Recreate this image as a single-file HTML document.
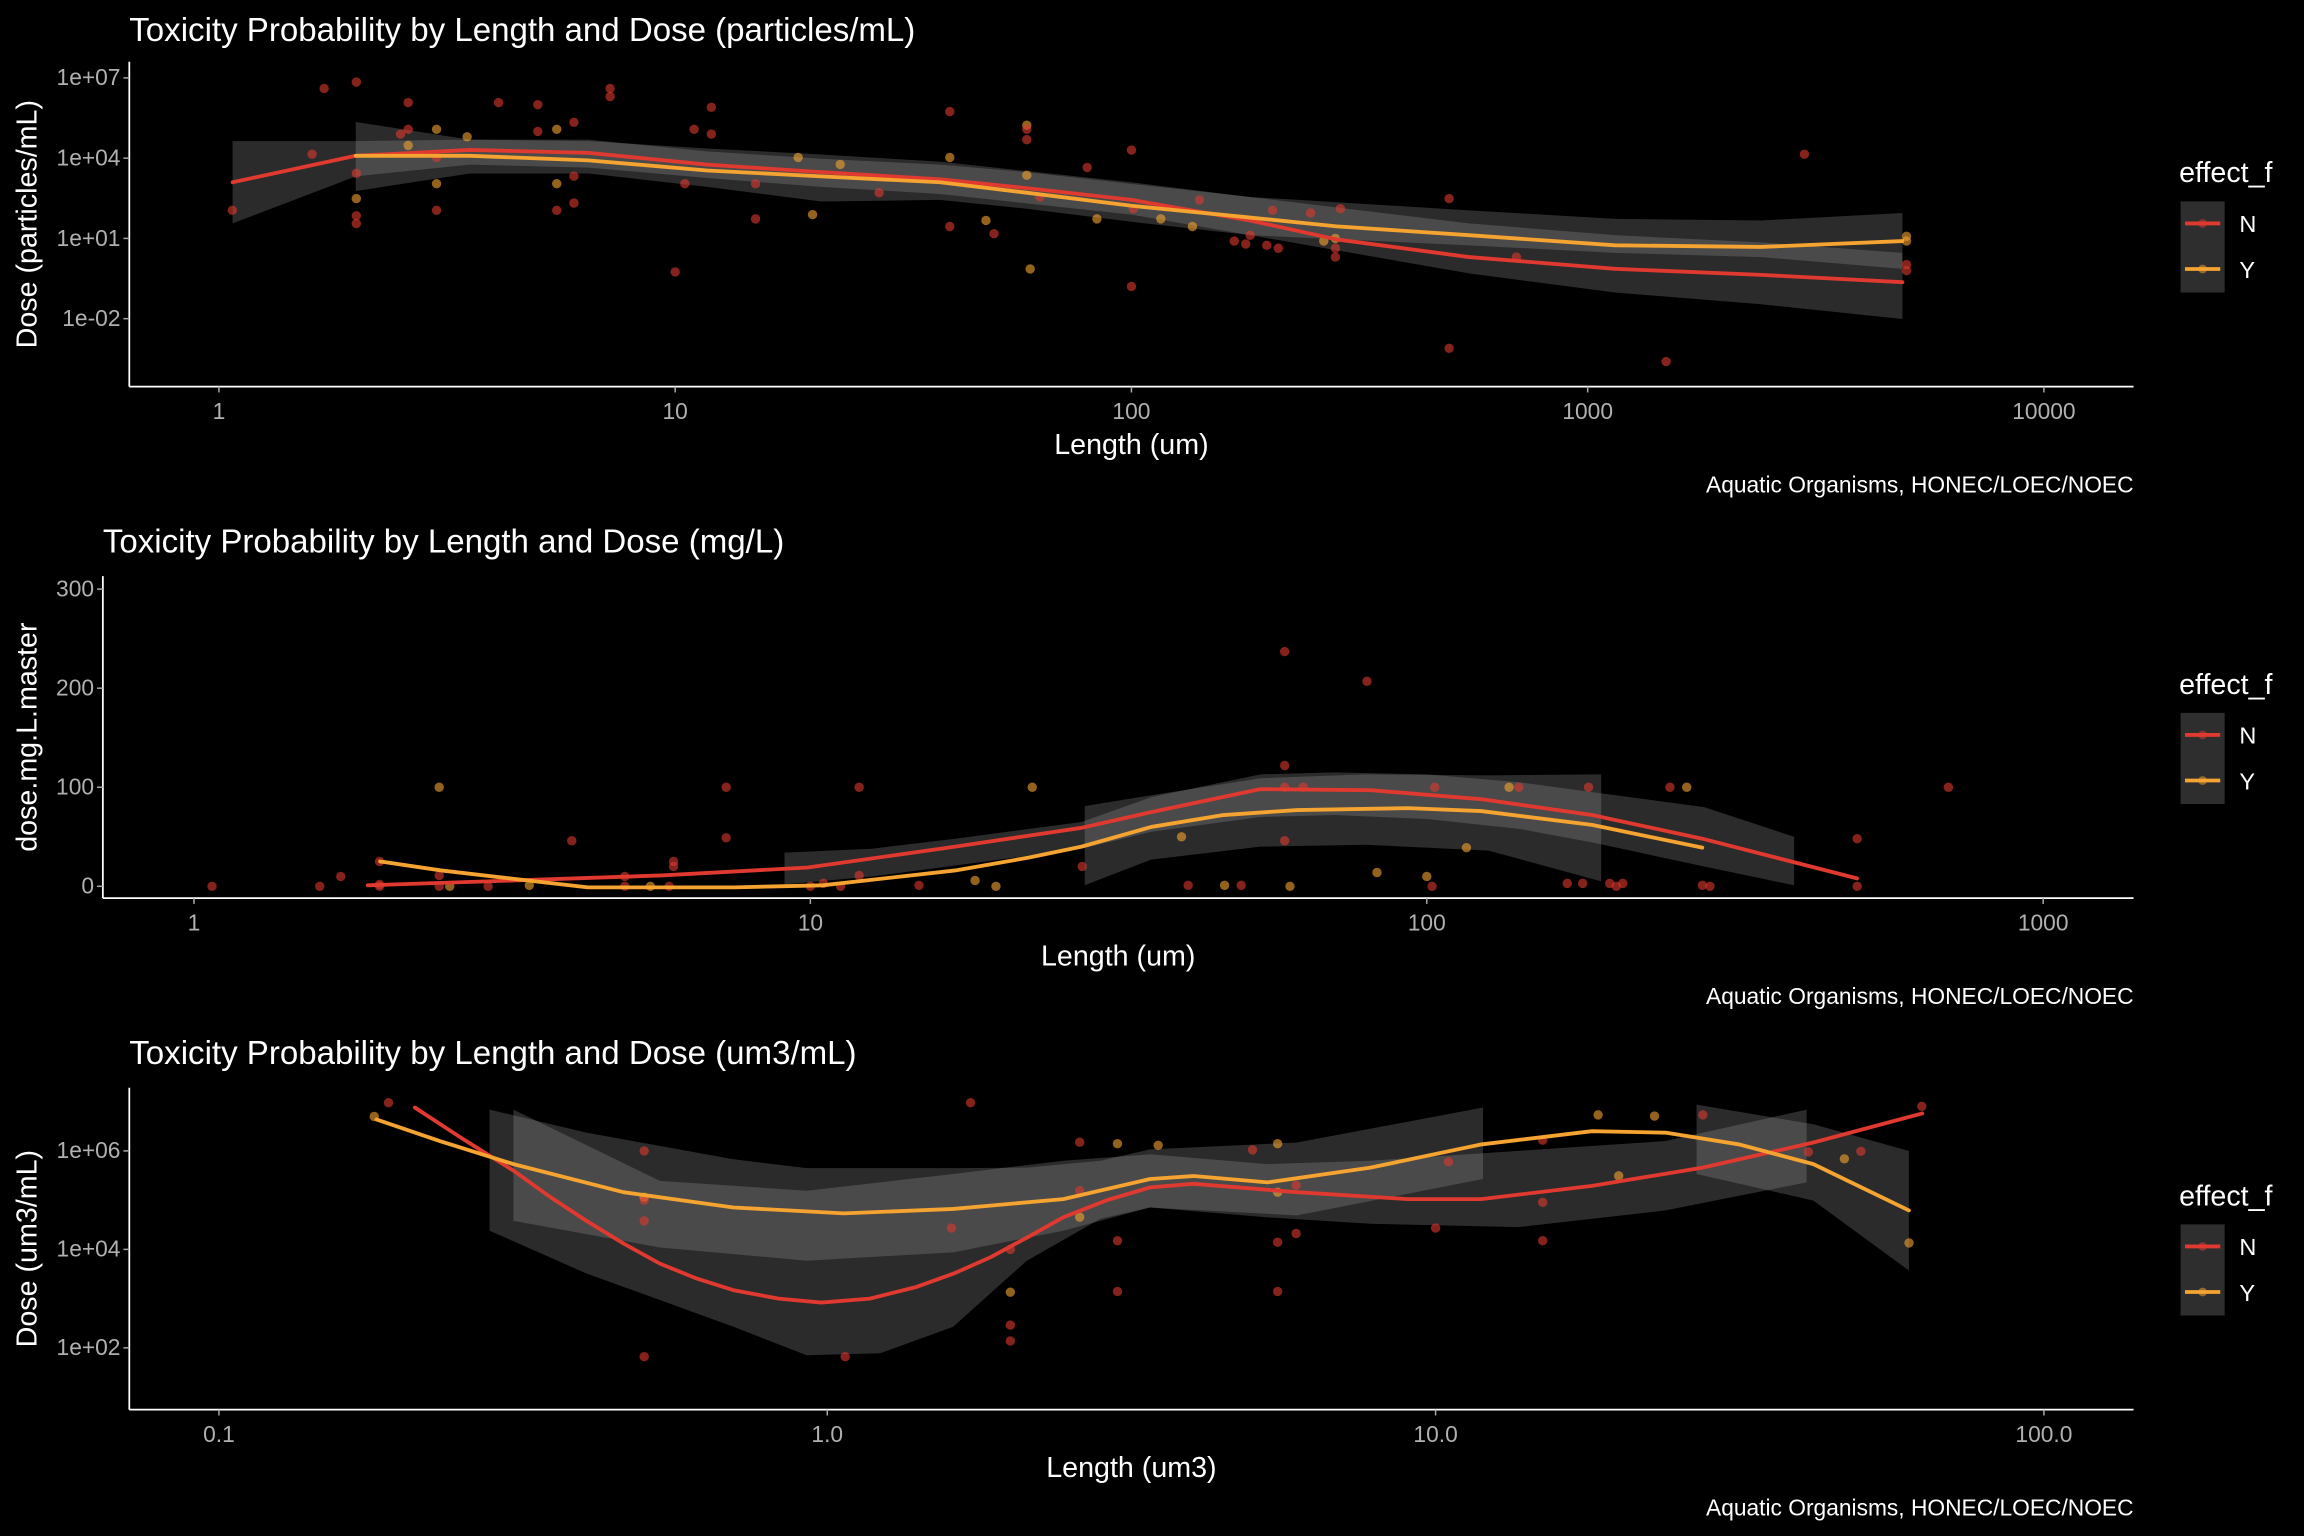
<!DOCTYPE html>
<html><head><meta charset="utf-8"><style>
html,body{margin:0;padding:0;background:#000;}
svg{display:block;}
text{font-family:"Liberation Sans",sans-serif;}
</style></head><body>
<svg id="chart" xmlns="http://www.w3.org/2000/svg" width="2304" height="1536" viewBox="0 0 1568 1045" preserveAspectRatio="none">
<rect x="0" y="0" width="1568" height="1045" fill="#000"/>
</svg>
<script>
// ---------- Panel 1 data (particles/mL) ----------
const p1X = [1.07,1.6,1.7,2,2,2,2,2,2.5,2.6,2.6,2.6,3,3,3,3,3.5,4.1,5,5,5.5,5.5,5.5,6,6,6,7.2,7.2,10,10.5,11,12,12,15,15,18.6,20,23,28,40,40,40,48,50,59,59,59,59,60,63,80,84,100,100,101,116,136,141,168,178,182,198,204,210,247,264,280,280,280,287,497,497,698,1486,2985,5000,5000,5000,5000];
const p1Y = [112,14000,4e6,7e6,2700,310,70,36,8e4,1.2e5,1.2e6,3e4,1.2e5,1100,112,1.07e4,6.3e4,1.2e6,1e6,1e5,1.2e5,1100,112,2100,210,2.2e5,4e6,2e6,0.56,1100,1.2e5,8e5,8e4,1100,54,1.07e4,78,5800,510,5.5e5,1.07e4,28,47,15,1.7e5,1.2e5,4.9e4,2300,0.72,350,4500,54,2e4,0.16,128,54,28,275,8,6.2,13,5.5,112,4.3,89,8,10,4.3,2,128,310,0.00078,2,0.00025,1.4e4,12,8,1.05,0.63];
const p1Eff = ["N","N","N","N","N","Y","N","N","N","N","N","Y","Y","Y","N","N","Y","N","N","N","Y","Y","N","N","N","N","N","N","N","N","N","N","N","N","N","Y","Y","Y","N","N","Y","N","Y","N","Y","N","N","Y","Y","N","N","Y","N","N","N","Y","Y","N","N","N","N","N","N","N","N","Y","Y","N","N","N","N","N","N","N","N","Y","Y","N","N"];
const p1FitNLogX = [0.03,0.30,0.55,0.81,1.07,1.32,1.58,1.77,2.0,2.26,2.45,2.74,3.06,3.38,3.69];
const p1FitNLogY = [3.10,4.09,4.31,4.20,3.76,3.48,3.21,2.88,2.44,1.67,0.96,0.30,-0.14,-0.36,-0.64];
const p1FitYLogX = [0.30,0.55,0.81,1.07,1.32,1.58,1.77,2.0,2.26,2.45,2.74,3.06,3.38,3.69];
const p1FitYLogY = [4.09,4.09,3.92,3.54,3.32,3.10,2.71,2.22,1.78,1.45,1.12,0.74,0.68,0.90];
const p1BandNLogX = [0.03,0.30,0.55,0.81,1.07,1.32,1.58,2.0,2.26,2.74,3.06,3.38,3.69];
const p1BandNHi = [4.64,4.64,4.69,4.64,4.36,4.14,3.87,3.10,2.55,1.56,1.12,0.85,0.46];
const p1BandNLo = [1.56,3.32,3.76,3.65,3.26,2.93,2.66,1.89,1.12,-0.31,-1.02,-1.46,-2.01];
const p1BandYLogX = [0.30,0.55,0.81,1.07,1.32,1.58,1.77,2.0,2.26,2.74,3.06,3.38,3.69];
const p1BandYHi = [5.35,4.69,4.69,4.25,3.98,3.76,3.48,3.04,2.55,2.05,1.73,1.67,1.95];
const p1BandYLo = [2.77,3.43,3.43,2.93,2.38,2.44,2.11,1.62,1.12,0.74,0.46,0.30,-0.14];
const p1XTicks = [1,10,100,1000,10000];
const p1XTickLabels = ["1","10","100","1000","10000"];
const p1YTicks = [1e7,1e4,1e1,1e-2];
const p1YTickLabels = ["1e+07","1e+04","1e+01","1e-02"];

// ---------- Panel 2 data (mg/L) ----------
const p2X = [1.07,1.6,1.73,2.0,2.0,2.0,2.5,2.5,2.5,2.6,3.0,3.5,4.1,5.0,5.0,5.5,5.9,6.0,6.0,7.3,7.3,10,10.5,11.2,12,12,15,18.5,20,22.9,27.6,40,41,47,50,58.8,58.8,58.8,58.8,60,63,80,83,100,102,103,116,136,141,169,179,183,198,203,208,248,264,280,288,499,499,702];
const p2Y = [0,0,10,25,2,0,100,11,0,0,0,1,46,10,0,0,0,25,20,100,49,0,3,0,100,11,1,6,0,100,20,50,1,1,1,237,122,100,46,0,100,207,14,10,0,100,39,100,100,3,3,100,3,0,3,100,100,1,0,48,0,100];
const p2Eff = ["N","N","N","N","N","N","Y","N","N","Y","N","Y","N","N","N","Y","N","N","N","N","N","N","N","N","N","N","N","Y","Y","Y","N","Y","N","Y","N","N","N","N","N","Y","N","N","Y","Y","N","N","Y","Y","N","N","N","N","N","N","N","N","Y","N","N","N","N","N"];
const p2FitNLogX = [0.282,0.52,0.758,0.996,1.235,1.44,1.553,1.73,1.909,2.088,2.268,2.447,2.698];
const p2FitNY = [1,6,11,19,40,59,75,98,97,88,72,48,8];
const p2FitYLogX = [0.302,0.401,0.639,0.877,1.02,1.235,1.354,1.44,1.553,1.67,1.79,1.969,2.088,2.268,2.447];
const p2FitYY = [25,16,-1,-1,1,16,29,40,60,72,77,79,76,62,39];
const p2BandNLogX = [0.958,1.1,1.235,1.44,1.553,1.73,1.85,2.0,2.15,2.27,2.45,2.596];
const p2BandNHi = [34,38,48,65,90,113,115,113,105,95,80,50];
const p2BandNLo = [2,10,21,38,55,70,72,68,58,44,20,1];
const p2BandYLogX = [1.445,1.553,1.73,1.9,2.1,2.283];
const p2BandYHi = [81,92,109,113,112,113];
const p2BandYLo = [1,27,40,42,36,5];
const p2XTicks = [1,10,100,1000];
const p2XTickLabels = ["1","10","100","1000"];
const p2YTicks = [0,100,200,300];
const p2YTickLabels = ["0","100","200","300"];

// ---------- Panel 3 data (um3/mL) ----------
const p3X = [0.18,0.19,0.5,0.5,0.5,0.5,0.5,1.07,1.6,1.72,2.0,2.0,2.0,2.0,2.6,2.6,2.6,3.0,3.0,3.0,3.5,5.0,5.5,5.5,5.5,5.5,5.9,5.9,10,10.5,15,15,15,18.5,20,22.9,27.5,41,47,50,60,63];
const p3Y = [5e6,9.5e6,1e6,1.15e5,1e5,3.8e4,66,66,2.7e4,9.5e6,1e4,1350,290,138,1.5e6,1.55e5,4.5e4,1.4e6,1.5e4,1400,1.3e6,1.05e6,1.4e6,1.45e5,1.4e4,1400,2e5,2.1e4,2.7e4,6e5,1.65e6,9e4,1.5e4,5.4e6,3.1e5,5.1e6,5.4e6,9.5e5,6.9e5,9.8e5,1.35e4,8e6];
const p3Eff = ["Y","N","N","Y","N","N","N","N","N","N","N","Y","N","N","N","N","Y","Y","N","N","Y","N","Y","Y","N","N","N","N","N","N","N","N","N","Y","Y","Y","N","N","Y","N","Y","N"];
const p3FitNLogX = [-0.678,-0.6,-0.516,-0.456,-0.396,-0.335,-0.275,-0.215,-0.154,-0.08,-0.01,0.07,0.147,0.21,0.268,0.33,0.388,0.46,0.531,0.602,0.772,0.954,1.075,1.257,1.439,1.621,1.8];
const p3FitNLogY = [6.88,6.25,5.6,5.07,4.58,4.12,3.71,3.41,3.17,3.0,2.92,3.0,3.24,3.52,3.84,4.25,4.65,5.0,5.26,5.33,5.16,5.02,5.02,5.29,5.66,6.17,6.76];
const p3FitYLogX = [-0.741,-0.637,-0.516,-0.335,-0.154,0.027,0.207,0.388,0.531,0.602,0.724,0.893,1.075,1.257,1.378,1.499,1.621,1.778];
const p3FitYLogY = [6.64,6.2,5.73,5.16,4.85,4.73,4.82,5.02,5.43,5.49,5.36,5.66,6.13,6.4,6.37,6.13,5.73,4.79];
const p3BandALogX = [-0.555,-0.396,-0.154,-0.034,0.087,0.207,0.328,0.449,0.530,0.772,1.078];
const p3BandAHi = [6.84,6.37,5.83,5.65,5.65,5.65,5.66,5.80,6.03,6.17,6.88];
const p3BandALo = [4.38,3.51,2.43,1.85,1.89,2.43,3.77,4.62,4.85,4.69,5.43];
const p3BandBLogX = [-0.516,-0.275,-0.034,0.207,0.388,0.531,0.724,0.893,1.136,1.378,1.610];
const p3BandBHi = [6.84,5.39,5.19,5.53,5.80,5.93,5.73,5.80,6.0,6.2,6.84];
const p3BandBLo = [4.58,4.04,3.77,3.94,4.38,4.85,4.65,4.52,4.45,4.79,5.36];
const p3BandCLogX = [1.429,1.621,1.778];
const p3BandCHi = [6.94,6.54,6.0];
const p3BandCLo = [5.53,4.99,3.57];
const p3XTicks = [0.1,1,10,100];
const p3XTickLabels = ["0.1","1.0","10.0","100.0"];
const p3YTicks = [1e6,1e4,1e2];
const p3YTickLabels = ["1e+06","1e+04","1e+02"];

const NS = "http://www.w3.org/2000/svg";
const svg = document.getElementById("chart");
const COL = {N:"#e0392f", Y:"#f5a331"};

function mk(tag, attrs, parent){
  const e = document.createElementNS(NS, tag);
  for (const k in attrs) e.setAttribute(k, attrs[k]);
  (parent||svg).appendChild(e);
  return e;
}
function txt(s, attrs, parent){ const t = mk("text", attrs, parent); t.textContent = s; return t; }

const p1x = v => 149 + 310.5*Math.log10(v);
const p1y = v => 53 + (7 - Math.log10(v))*18.2;
const p2x = v => 132 + 419.5*Math.log10(v);
const p2y = v => 603 - 0.674*v;
const p3x = v => 149 + 414*(Math.log10(v)+1);
const p3y = v => 783 + (6 - Math.log10(v))*33.5;

function band(g, name, lx, hi, lo, sx, sy, logY){
  const fy = logY ? (v => sy(Math.pow(10,v))) : sy;
  let d = "";
  for (let i=0;i<lx.length;i++) d += (i?"L":"M") + sx(Math.pow(10,lx[i])).toFixed(1) + "," + fy(hi[i]).toFixed(1);
  for (let i=lx.length-1;i>=0;i--) d += "L" + sx(Math.pow(10,lx[i])).toFixed(1) + "," + fy(lo[i]).toFixed(1);
  const p = mk("path", {d:d+"Z", fill:"#999", "fill-opacity":"0.28"}, g);
  
  
}
function line(g, name, lx, ly, sx, sy, logY, color){
  const fy = logY ? (v => sy(Math.pow(10,v))) : sy;
  let d = "";
  for (let i=0;i<lx.length;i++) d += (i?"L":"M") + sx(Math.pow(10,lx[i])).toFixed(1) + "," + fy(ly[i]).toFixed(1);
  const p = mk("path", {d:d, fill:"none", stroke:color, "stroke-width":"2.6", "stroke-linejoin":"round", "stroke-linecap":"round"}, g);
  
  
}
function points(g, xs, ys, eff, sx, sy){
  for (let i=0;i<xs.length;i++){
    const c = mk("circle", {cx:sx(xs[i]).toFixed(1), cy:sy(ys[i]).toFixed(1), r:"3.2", fill:COL[eff[i]], "fill-opacity":"0.6"}, g);
    
    
  }
}
function axes(g, cfg){
  const ax = cfg.axisX, bot = cfg.bottom, top = cfg.top;
  const yl = mk("line", {x1:ax, y1:top, x2:ax, y2:bot, stroke:"#fff", "stroke-width":"1.2"}, g);
  
  
  const xl = mk("line", {x1:ax, y1:bot, x2:1452, y2:bot, stroke:"#fff", "stroke-width":"1.2"}, g);
  
  
  cfg.xt.forEach((v,i)=>{
    const X = cfg.sx(v);
    const t = mk("line", {x1:X, y1:bot, x2:X, y2:bot+4, stroke:"#aaa", "stroke-width":"1"}, g);
    
    
    const l = txt(cfg.xtl[i], {x:X, y:bot+22, fill:"#b0b0b0", "font-size":"15.5", "text-anchor":"middle"}, g);
    
    
  });
  cfg.yt.forEach((v,i)=>{
    const Y = cfg.sy(v);
    const t = mk("line", {x1:ax-4, y1:Y, x2:ax, y2:Y, stroke:"#aaa", "stroke-width":"1"}, g);
    
    
    const l = txt(cfg.ytl[i], {x:ax-6, y:Y+5, fill:"#b0b0b0", "font-size":"15.5", "text-anchor":"end"}, g);
    
    
  });
  const tt = txt(cfg.title, {x:cfg.titleX, y:cfg.off+28, fill:"#fff", "font-size":"22.5"}, g);
  
  
  const xa = txt(cfg.xTitle, {x:cfg.xTitleX, y:cfg.off+309, fill:"#fff", "font-size":"19.5", "text-anchor":"middle"}, g);
  
  
  const yc = (top+bot)/2;
  const ya = txt(cfg.yTitle, {x:0, y:0, fill:"#fff", "font-size":"19.5", "text-anchor":"middle", transform:"translate(25,"+yc+") rotate(-90)"}, g);
  
  
  const cap = txt("Aquatic Organisms, HONEC/LOEC/NOEC", {x:1452, y:cfg.off+335, fill:"#fff", "font-size":"15.5", "text-anchor":"end"}, g);
  
  
  const lg = mk("g", {}, g);
  
  
  const lt = txt("effect_f", {x:1483, y:cfg.off+124, fill:"#fff", "font-size":"19.5"}, lg);
  
  
  const kb = mk("rect", {x:1484, y:cfg.off+137, width:30, height:62, fill:"#2e2e2e"}, lg);
  
  
  [["N",152],["Y",183]].forEach(([k,yy])=>{
    const e = mk("g", {}, lg);
    
    
    mk("line", {x1:1487, y1:cfg.off+yy, x2:1511, y2:cfg.off+yy, stroke:COL[k], "stroke-width":"2.6"}, e);
    mk("circle", {cx:1499, cy:cfg.off+yy, r:"3", fill:COL[k], "fill-opacity":"0.5"}, e);
    txt(k, {x:1524, y:cfg.off+yy+6, fill:"#fff", "font-size":"16"}, e);
  });
}

const g1 = mk("g", {});


band(g1, 'ci-band-N', p1BandNLogX, p1BandNHi, p1BandNLo, p1x, p1y, true);
band(g1, 'ci-band-Y', p1BandYLogX, p1BandYHi, p1BandYLo, p1x, p1y, true);
points(g1, p1X, p1Y, p1Eff, p1x, p1y);
line(g1, 'smooth-line-N', p1FitNLogX, p1FitNLogY, p1x, p1y, true, COL.N);
line(g1, 'smooth-line-Y', p1FitYLogX, p1FitYLogY, p1x, p1y, true, COL.Y);
axes(g1, {axisX:88, bottom:263, top:42, sx:p1x, sy:p1y, xt:p1XTicks, xtl:p1XTickLabels, yt:p1YTicks, ytl:p1YTickLabels,
  title:"Toxicity Probability by Length and Dose (particles/mL)", titleX:88, off:0, xTitle:"Length (um)", xTitleX:770, yTitle:"Dose (particles/mL)"});

const g2 = mk("g", {});


band(g2, 'ci-band-N', p2BandNLogX, p2BandNHi, p2BandNLo, p2x, p2y, false);
band(g2, 'ci-band-Y', p2BandYLogX, p2BandYHi, p2BandYLo, p2x, p2y, false);
points(g2, p2X, p2Y, p2Eff, p2x, p2y);
line(g2, 'smooth-line-N', p2FitNLogX, p2FitNY, p2x, p2y, false, COL.N);
line(g2, 'smooth-line-Y', p2FitYLogX, p2FitYY, p2x, p2y, false, COL.Y);
axes(g2, {axisX:70, bottom:611, top:392, sx:p2x, sy:p2y, xt:p2XTicks, xtl:p2XTickLabels, yt:p2YTicks, ytl:p2YTickLabels,
  title:"Toxicity Probability by Length and Dose (mg/L)", titleX:70, off:348, xTitle:"Length (um)", xTitleX:761, yTitle:"dose.mg.L.master"});

const g3 = mk("g", {});


band(g3, 'ci-band-A', p3BandALogX, p3BandAHi, p3BandALo, p3x, p3y, true);
band(g3, 'ci-band-B', p3BandBLogX, p3BandBHi, p3BandBLo, p3x, p3y, true);
band(g3, 'ci-band-C', p3BandCLogX, p3BandCHi, p3BandCLo, p3x, p3y, true);
points(g3, p3X, p3Y, p3Eff, p3x, p3y);
line(g3, 'smooth-line-N', p3FitNLogX, p3FitNLogY, p3x, p3y, true, COL.N);
line(g3, 'smooth-line-Y', p3FitYLogX, p3FitYLogY, p3x, p3y, true, COL.Y);
axes(g3, {axisX:88, bottom:959, top:740, sx:p3x, sy:p3y, xt:p3XTicks, xtl:p3XTickLabels, yt:p3YTicks, ytl:p3YTickLabels,
  title:"Toxicity Probability by Length and Dose (um3/mL)", titleX:88, off:696, xTitle:"Length (um3)", xTitleX:770, yTitle:"Dose (um3/mL)"});
</script>
</body></html>
